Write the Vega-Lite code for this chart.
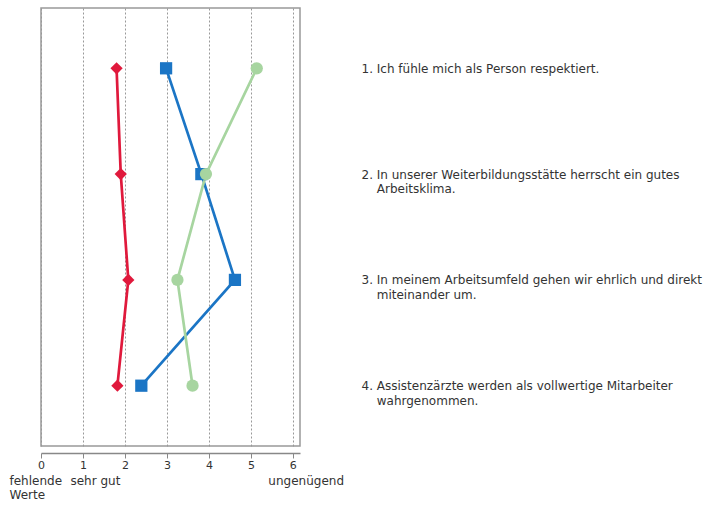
{
  "$schema": "https://vega.github.io/schema/vega-lite/v6.json",
  "width": 259,
  "height": 438,
  "autosize": "none",
  "padding": {"left": 41, "top": 8, "right": 413, "bottom": 59},
  "background": "white",
  "config": {
    "font": "DejaVu Sans",
    "view": {"stroke": "#999999", "strokeWidth": 1.5},
    "axis": {"labelFont": "DejaVu Sans", "labelColor": "#333333"}
  },
  "data": {
    "values": [
      {"item": 1, "statement": "1. Ich fühle mich als Person respektiert.", "group": "A", "value": 1.80},
      {"item": 2, "statement": "2. In unserer Weiterbildungsstätte herrscht ein gutes\nArbeitsklima.", "group": "A", "value": 1.90},
      {"item": 3, "statement": "3. In meinem Arbeitsumfeld gehen wir ehrlich und direkt\nmiteinander um.", "group": "A", "value": 2.08},
      {"item": 4, "statement": "4. Assistenzärzte werden als vollwertige Mitarbeiter\nwahrgenommen.", "group": "A", "value": 1.82},
      {"item": 1, "statement": "1. Ich fühle mich als Person respektiert.", "group": "B", "value": 2.98},
      {"item": 2, "statement": "2. In unserer Weiterbildungsstätte herrscht ein gutes\nArbeitsklima.", "group": "B", "value": 3.82},
      {"item": 3, "statement": "3. In meinem Arbeitsumfeld gehen wir ehrlich und direkt\nmiteinander um.", "group": "B", "value": 4.62},
      {"item": 4, "statement": "4. Assistenzärzte werden als vollwertige Mitarbeiter\nwahrgenommen.", "group": "B", "value": 2.39},
      {"item": 1, "statement": "1. Ich fühle mich als Person respektiert.", "group": "C", "value": 5.14},
      {"item": 2, "statement": "2. In unserer Weiterbildungsstätte herrscht ein gutes\nArbeitsklima.", "group": "C", "value": 3.93},
      {"item": 3, "statement": "3. In meinem Arbeitsumfeld gehen wir ehrlich und direkt\nmiteinander um.", "group": "C", "value": 3.25},
      {"item": 4, "statement": "4. Assistenzärzte werden als vollwertige Mitarbeiter\nwahrgenommen.", "group": "C", "value": 3.61}
    ]
  },
  "layer": [
    {
      "encoding": {
        "x": {
          "field": "value",
          "type": "quantitative",
          "scale": {"domain": [0, 6.17], "nice": false, "zero": false},
          "axis": {
            "orient": "bottom",
            "values": [0, 1, 2, 3, 4, 5, 6],
            "format": "d",
            "title": null,
            "offset": 7,
            "grid": true,
            "gridDash": [2, 2],
            "gridColor": "#999999",
            "gridWidth": 1,
            "domainColor": "#888888",
            "domainWidth": 1.5,
            "tickColor": "#888888",
            "tickSize": 5,
            "labelFontSize": 11,
            "labelPadding": 1,
            "labelFlush": false,
            "labelOverlap": false
          }
        },
        "y": {
          "field": "statement",
          "type": "nominal",
          "sort": null,
          "scale": {"type": "point", "padding": 0.57},
          "axis": {
            "orient": "right",
            "title": null,
            "ticks": false,
            "domain": false,
            "grid": false,
            "labelExpr": "length(split(datum.label, '\\n')) > 1 ? [split(datum.label, '\\n')[0], '\u200b\u00a0\u00a0\u00a0\u00a0' + split(datum.label, '\\n')[1]] : datum.label",
            "labelPadding": 61,
            "labelAlign": "left",
            "labelLimit": 0,
            "labelFontSize": 12,
            "labelLineHeight": 14.5,
            "labelBaseline": "top",
            "labelOffset": -5
          }
        },
        "color": {
          "field": "group",
          "type": "nominal",
          "scale": {"domain": ["A", "B", "C"], "range": ["#e0193c", "#1b75c5", "#a7d5a0"]},
          "legend": null
        }
      },
      "layer": [
        {
          "mark": {"type": "line", "strokeWidth": 2.7},
          "encoding": {"order": {"field": "item", "type": "quantitative"}}
        },
        {
          "mark": {"type": "point", "filled": true, "opacity": 1, "size": 150},
          "encoding": {
            "shape": {
              "field": "group",
              "type": "nominal",
              "scale": {"domain": ["A", "B", "C"], "range": ["diamond", "square", "circle"]},
              "legend": null
            }
          }
        }
      ]
    },
    {
      "mark": {"type": "point", "opacity": 0},
      "encoding": {
        "x": {
          "field": "value",
          "type": "quantitative",
          "scale": {"domain": [0, 6.17], "nice": false, "zero": false},
          "axis": {
            "orient": "bottom",
            "values": [0, 1, 6],
            "title": null,
            "offset": 6,
            "domain": false,
            "ticks": false,
            "grid": false,
            "labelExpr": "datum.value == 0 ? ['fehlende', 'Werte'] : datum.value == 1 ? 'sehr gut' : 'ungenügend'",
            "labelAlign": "left",
            "labelBaseline": "top",
            "labelOffset": {"condition": [{"test": "datum.value == 0", "value": -32}, {"test": "datum.value == 1", "value": -13}], "value": -25},
            "labelPadding": 23,
            "labelFontSize": 12,
            "labelLineHeight": 14,
            "labelFlush": false,
            "labelOverlap": false
          }
        }
      }
    }
  ],
  "resolve": {"scale": {"x": "independent"}, "axis": {"x": "independent"}}
}
